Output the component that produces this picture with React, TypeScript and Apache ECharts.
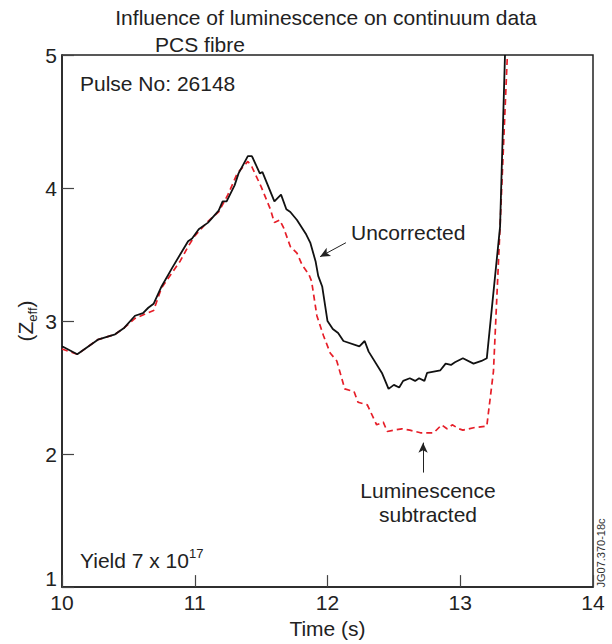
import React, { useEffect, useRef } from "react";
import * as echarts from "echarts";

// Time (s) and Zeff for uncorrected data
const uncorrectedTime = [
  10.0, 10.115, 10.27, 10.4, 10.47, 10.55, 10.61, 10.65, 10.69, 10.75, 10.83, 10.89, 10.95, 10.98,
  11.03, 11.1, 11.18, 11.21, 11.24, 11.3, 11.33, 11.4, 11.43, 11.44, 11.49, 11.51, 11.6, 11.65,
  11.69, 11.72, 11.77, 11.84, 11.87, 11.91, 11.93, 11.96, 12.0, 12.04, 12.08, 12.12, 12.24, 12.28,
  12.31, 12.41, 12.46, 12.5, 12.54, 12.57, 12.62, 12.66, 12.69, 12.73, 12.75, 12.85, 12.89, 12.93,
  12.96, 13.02, 13.1, 13.16, 13.2, 13.3, 13.337,
];
const uncorrectedZeff = [
  2.81, 2.75, 2.86, 2.9, 2.95, 3.04, 3.06, 3.1, 3.13, 3.26, 3.4, 3.5, 3.6, 3.62,
  3.69, 3.74, 3.83, 3.9, 3.9, 4.02, 4.11, 4.24, 4.24, 4.22, 4.11, 4.12, 3.9, 3.95,
  3.84, 3.82, 3.76, 3.65, 3.59, 3.45, 3.34, 3.26, 3.0, 2.94, 2.91, 2.85, 2.81, 2.85,
  2.77, 2.61, 2.49, 2.52, 2.5, 2.55, 2.57, 2.55, 2.57, 2.55, 2.61, 2.63, 2.68, 2.67,
  2.69, 2.72, 2.68, 2.7, 2.72, 3.71, 5.0,
];

// Time (s) and Zeff with luminescence subtracted
const subtractedTime = [
  10.0, 10.115, 10.27, 10.4, 10.47, 10.55, 10.69, 10.75, 10.89, 10.95, 11.0, 11.1, 11.18, 11.25,
  11.32, 11.4, 11.43, 11.5, 11.57, 11.6, 11.64, 11.67, 11.72, 11.77, 11.81, 11.86, 11.88, 11.92,
  11.97, 12.02, 12.07, 12.13, 12.2, 12.23, 12.3, 12.37, 12.42, 12.45, 12.5, 12.56, 12.62, 12.7,
  12.8, 12.86, 12.9, 12.94, 12.99, 13.02, 13.11, 13.2, 13.25, 13.3, 13.355,
];
const subtractedZeff = [
  2.79, 2.75, 2.86, 2.9, 2.95, 3.02, 3.08, 3.25, 3.45, 3.56, 3.64, 3.75, 3.82, 3.95,
  4.11, 4.2, 4.16, 4.01, 3.84, 3.74, 3.76, 3.7, 3.56, 3.51, 3.42, 3.35, 3.3, 3.04,
  2.89, 2.76, 2.7, 2.49, 2.47, 2.39, 2.37, 2.22, 2.24, 2.17, 2.18, 2.19, 2.18, 2.16,
  2.16, 2.22, 2.19, 2.22, 2.19, 2.18, 2.2, 2.21, 2.62, 3.71, 5.0,
];

// Annotation arrows (data coordinates: [time, Zeff])
const uncorrectedArrow = [[12.139, 3.589], [11.944, 3.484]];
const subtractedArrow = [[12.72, 1.861], [12.72, 2.086]];

const xTicks = [10, 11, 12, 13, 14];
const yTicks = [1, 2, 3, 4, 5];

const FONT = "'Liberation Sans', Arial, Helvetica, sans-serif";

export default function App() {
  const ref = useRef<HTMLDivElement>(null);
  useEffect(() => {
    if (!ref.current) return;
    const chart = echarts.init(ref.current, null, { renderer: "svg" });
    const zip = (a: number[], b: number[]) => a.map((v, i) => [v, b[i]]);
    chart.setOption({
      animation: false,
      backgroundColor: "#fff",
      textStyle: { fontFamily: FONT },
      grid: {
        left: 62,
        right: 19,
        top: 55,
        bottom: 56,
        show: true,
        borderColor: "#222",
        borderWidth: 1.5,
        backgroundColor: "transparent",
      },
      xAxis: {
        type: "value",
        min: xTicks[0],
        max: xTicks[xTicks.length - 1],
        interval: 1,
        axisLine: { show: true, lineStyle: { color: "#222", width: 1.5 } },
        axisTick: { show: true, inside: true, length: 12, lineStyle: { color: "#444", width: 1.2 } },
        axisLabel: { fontSize: 21, color: "#222", margin: 5, fontFamily: FONT },
        splitLine: { show: false },
        name: "Time (s)",
        nameLocation: "middle",
        nameGap: 30,
        nameTextStyle: { fontSize: 21, color: "#222", fontFamily: FONT },
      },
      yAxis: {
        type: "value",
        min: yTicks[0],
        max: yTicks[yTicks.length - 1],
        interval: 1,
        axisLine: { show: true, lineStyle: { color: "#222", width: 1.5 } },
        axisTick: { show: true, inside: true, length: 12, lineStyle: { color: "#444", width: 1.2 } },
        axisLabel: {
          fontSize: 21,
          color: "#222",
          margin: 5,
          fontFamily: FONT,
          formatter: (v: number) => (v === yTicks[0] ? `{low|${v}}` : `${v}`),
          rich: { low: { fontSize: 21, fontFamily: FONT, color: "#222", padding: [0, 0, 18, 0] } },
        },
        splitLine: { show: false },
      },
      series: [
        {
          type: "line",
          name: "Uncorrected",
          data: zip(uncorrectedTime, uncorrectedZeff),
          showSymbol: false,
          clip: true,
          lineStyle: { color: "#111", width: 1.8 },
          z: 3,
          markLine: {
            silent: true,
            symbol: ["none", "arrow"],
            symbolSize: [7, 10],
            label: { show: false },
            lineStyle: { color: "#222", width: 1, type: "solid" },
            data: [
              [{ coord: uncorrectedArrow[0] }, { coord: uncorrectedArrow[1] }],
              [{ coord: subtractedArrow[0] }, { coord: subtractedArrow[1] }],
            ],
          },
        },
        {
          type: "line",
          name: "Luminescence subtracted",
          data: zip(subtractedTime, subtractedZeff),
          showSymbol: false,
          clip: true,
          lineStyle: { color: "#e61e28", width: 1.7, type: [6, 4] },
          z: 2,
        },
      ],
      graphic: [
        {
          type: "text",
          x: 326,
          y: 17,
          style: {
            text: "Influence of luminescence on continuum data",
            font: `21px ${FONT}`,
            fill: "#222",
            align: "center",
            verticalAlign: "middle",
          },
        },
        {
          type: "text",
          x: 200,
          y: 44,
          style: {
            text: "PCS fibre",
            font: `21px ${FONT}`,
            fill: "#222",
            align: "center",
            verticalAlign: "middle",
          },
        },
        {
          type: "text",
          x: 80,
          y: 83,
          style: {
            text: "Pulse No: 26148",
            font: `21px ${FONT}`,
            fill: "#222",
            align: "left",
            verticalAlign: "middle",
          },
        },
        {
          type: "text",
          x: 351,
          y: 232,
          style: {
            text: "Uncorrected",
            font: `21px ${FONT}`,
            fill: "#222",
            align: "left",
            verticalAlign: "middle",
          },
        },
        {
          type: "text",
          x: 428,
          y: 502,
          style: {
            text: "Luminescence\nsubtracted",
            font: `21px ${FONT}`,
            fill: "#222",
            align: "center",
            verticalAlign: "middle",
            lineHeight: 24,
          },
        },
        {
          type: "text",
          x: 80,
          y: 560,
          style: {
            text: "Yield 7 x 10{sup|17}",
            font: `21px ${FONT}`,
            fill: "#222",
            align: "left",
            verticalAlign: "middle",
            lineHeight: 26,
            rich: {
              sup: { fontSize: 13, fontFamily: FONT, fill: "#222", verticalAlign: "top", lineHeight: 13 },
            },
          },
        },
        {
          type: "text",
          x: 25,
          y: 321,
          rotation: Math.PI / 2,
          style: {
            text: "(Z{sub|eff})",
            font: `21px ${FONT}`,
            fill: "#222",
            align: "center",
            verticalAlign: "middle",
            lineHeight: 28,
            rich: {
              sub: { fontSize: 13, fontFamily: FONT, fill: "#222", verticalAlign: "bottom", lineHeight: 13 },
            },
          },
        },
        {
          type: "text",
          x: 601,
          y: 553,
          rotation: Math.PI / 2,
          style: {
            text: "JG07.370-18c",
            font: `11px ${FONT}`,
            fill: "#333",
            align: "center",
            verticalAlign: "middle",
          },
        },
      ],
    });
    return () => chart.dispose();
  }, []);
  return <div ref={ref} style={{ width: 612, height: 644, position: "absolute", left: 0, top: 0 }} />;
}
